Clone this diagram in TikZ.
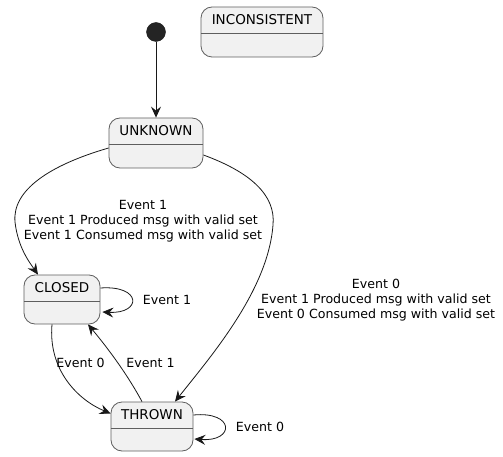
\documentclass[tikz,border=0pt]{standalone}
\usepackage{fontspec}
\setmainfont{DejaVu Sans}
\usetikzlibrary{arrows.meta}
\definecolor{stfill}{HTML}{F1F1F1}
\definecolor{stdraw}{HTML}{5E5E5E}
\definecolor{ln}{HTML}{181818}
\begin{document}
\begin{tikzpicture}[x=1pt,y=-1pt,
  statebox/.style={draw=stdraw,fill=stfill,rounded corners=11pt,line width=0.8pt,inner sep=0pt},
  sttext/.style={font=\fontsize{13.5}{15}\selectfont,inner sep=0pt,anchor=center},
  divline/.style={draw=stdraw,line width=0.8pt},
  edge/.style={draw=ln,line width=0.8pt,-{Stealth[length=11pt,width=10pt,inset=4pt]}},
  lbl/.style={font=\fontsize{12.6}{15}\selectfont,align=center,inner sep=0pt,text=black}]
\useasboundingbox (0,0) rectangle (503,457);
% initial
\node[circle,fill=ln!95,draw=ln,minimum size=19pt,inner sep=0pt] (init) at (156,32) {};
% states
\node[statebox,minimum width=122pt,minimum height=50pt] (inc) at (262,32) {};
\node[sttext] (inct) at (262,20) {INCONSISTENT};
\draw[divline] (inc.west |- 0,33) -- (inc.east |- 0,33);

\node[statebox,minimum width=94pt,minimum height=50pt] (unk) at (156,143) {};
\node[sttext] (unkt) at (156,131) {UNKNOWN};
\draw[divline] (unk.west |- 0,144) -- (unk.east |- 0,144);

\node[statebox,minimum width=76pt,minimum height=49pt] (clo) at (62,299.5) {};
\node[sttext] (clot) at (62,288) {CLOSED};
\draw[divline] (clo.west |- 0,301) -- (clo.east |- 0,301);

\node[statebox,minimum width=82pt,minimum height=49pt] (thr) at (152,426.5) {};
\node[sttext] (thrt) at (152,415) {THROWN};
\draw[divline] (thr.west |- 0,428) -- (thr.east |- 0,428);

% edges
\draw[edge] (init) -- (unk.north);
\draw[edge] ([yshift=-5pt]unk.west) .. controls (50,165) and (12,190) .. (15,222) .. controls (18,248) and (30,263) .. ([xshift=-24pt]clo.north);
\draw[edge] ([yshift=-12pt]unk.east) .. controls (250,172) and (276,195) .. (273,225) .. controls (268,290) and (212,355) .. ([xshift=23pt]thr.north);
\draw[edge] ([yshift=11.5pt]clo.east) .. controls (142,285) and (142,314) .. ([xshift=2pt,yshift=-12.5pt]clo.east);
\draw[edge] ([yshift=11.5pt]thr.east) .. controls (235,411) and (235,442) .. ([xshift=1pt,yshift=-12.5pt]thr.east);
\draw[edge] ([xshift=-10pt]clo.south) .. controls (48,370) and (78,400) .. ([yshift=13pt]thr.west);
\draw[edge] ([xshift=-10pt]thr.north) .. controls (126,372) and (106,346) .. ([xshift=26pt]clo.south);

% labels
\node[lbl] (l1) at (143,221.5) {Event 1\\Event 1 Produced msg with valid set\\Event 1 Consumed msg with valid set};
\node[lbl] (l2) at (376,300) {Event 0\\Event 1 Produced msg with valid set\\Event 0 Consumed msg with valid set};
\node[lbl] (l3) at (167,300) {Event 1};
\node[lbl] (l4) at (260,427) {Event 0};
\node[lbl] (l5) at (80.5,363) {Event 0};
\node[lbl] (l6) at (150.5,363) {Event 1};
\end{tikzpicture}
\end{document}
